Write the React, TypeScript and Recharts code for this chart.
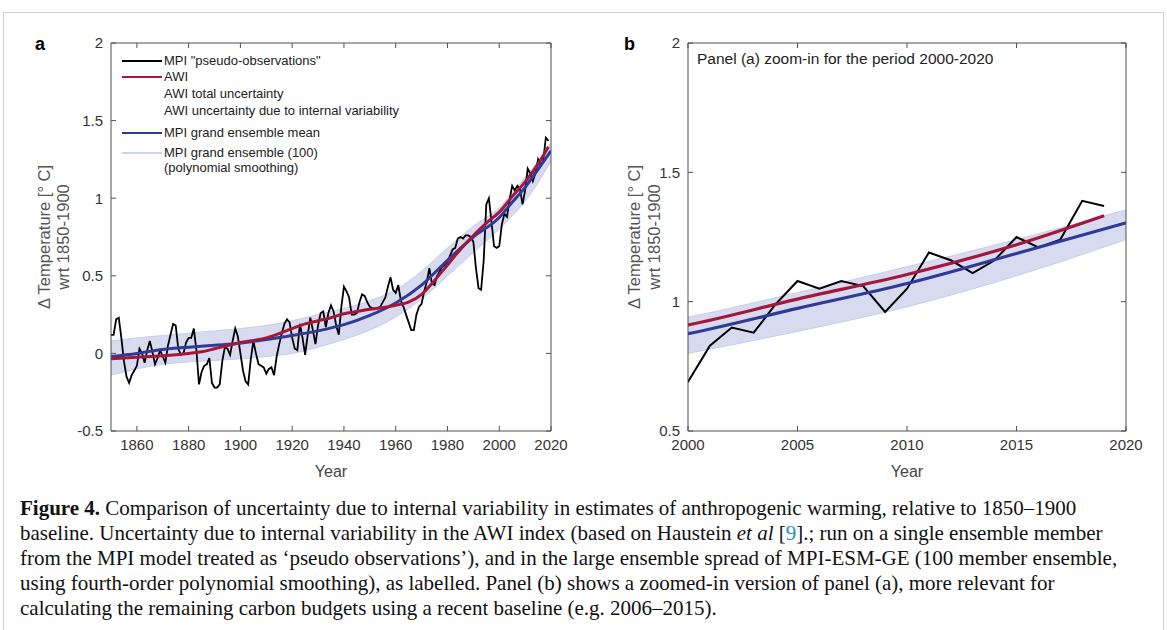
import React from "react";
import { ComposedChart, Line, Area, XAxis, YAxis } from "recharts";

// MPI "pseudo-observations", one value per year from 1850 to 2019
const obsStartYear = 1850;
const obsValues = [
  0.12, 0.12, 0.22, 0.23, 0.1, -0.05, -0.15, -0.19, -0.14, -0.11,
  -0.08, 0.03, 0.0, -0.06, 0.02, 0.08, 0.01, -0.07, -0.03, 0.02,
  -0.02, -0.06, 0.05, 0.12, 0.19, 0.18, 0.03, -0.01, 0.0, 0.07,
  0.1, 0.1, 0.16, 0.02, -0.2, -0.12, -0.08, -0.07, -0.03, -0.19,
  -0.22, -0.22, -0.2, -0.05, 0.04, 0.03, -0.01, 0.08, 0.16, 0.11,
  0.0, -0.11, -0.18, -0.2, -0.04, 0.08, 0.0, -0.07, -0.08, -0.09,
  -0.13, -0.1, -0.09, -0.14, -0.02, 0.06, 0.13, 0.19, 0.22, 0.2,
  0.1, 0.03, 0.02, 0.19, 0.1, -0.01, 0.12, 0.23, 0.15, 0.06,
  0.18, 0.26, 0.27, 0.17, 0.26, 0.31, 0.27, 0.18, 0.12, 0.3,
  0.43, 0.4, 0.36, 0.25, 0.25, 0.26, 0.33, 0.38, 0.37, 0.33,
  0.3, 0.29, 0.29, 0.29, 0.3, 0.33, 0.36, 0.43, 0.49, 0.41,
  0.39, 0.44, 0.34, 0.3, 0.25, 0.2, 0.15, 0.15, 0.25, 0.3,
  0.32, 0.4, 0.46, 0.55, 0.45, 0.44, 0.5, 0.53, 0.56, 0.57,
  0.59, 0.63, 0.67, 0.68, 0.74, 0.75, 0.74, 0.76, 0.76, 0.75,
  0.72, 0.55, 0.42, 0.41, 0.6, 0.96, 1.0, 0.85, 0.69, 0.68,
  0.69, 0.83, 0.9, 0.88, 0.99, 1.08, 1.05, 1.08, 1.06, 0.96,
  1.05, 1.19, 1.16, 1.11, 1.16, 1.25, 1.21, 1.24, 1.39, 1.37,
];

// AWI (smooth)
const awiYears = [1850, 1860, 1870, 1880, 1885, 1890, 1900, 1910, 1920, 1925, 1930, 1935, 1940, 1945, 1950, 1955, 1960, 1965, 1970, 1975, 1980, 1985, 1990, 1995, 2000, 2005, 2010, 2015, 2019];
const awiValues = [-0.035, -0.025, -0.015, 0.0, 0.01, 0.03, 0.07, 0.1, 0.16, 0.19, 0.21, 0.23, 0.255, 0.27, 0.285, 0.295, 0.31, 0.33, 0.38, 0.47, 0.57, 0.67, 0.76, 0.84, 0.91, 1.01, 1.105, 1.22, 1.332];

// MPI grand ensemble mean
const meanYears = [1850, 1860, 1870, 1880, 1890, 1900, 1910, 1920, 1930, 1940, 1950, 1960, 1970, 1980, 1990, 2000, 2005, 2010, 2015, 2020];
const meanValues = [-0.02, 0.0, 0.025, 0.04, 0.052, 0.065, 0.09, 0.115, 0.145, 0.185, 0.245, 0.325, 0.44, 0.6, 0.75, 0.876, 0.974, 1.07, 1.186, 1.305];

// spread of the 100 smoothed ensemble members
const spreadYears = [1850, 1860, 1870, 1880, 1890, 1900, 1910, 1920, 1930, 1940, 1950, 1960, 1970, 1980, 1990, 2000, 2005, 2010, 2015, 2020];
const spreadLow = [-0.14, -0.1, -0.07, -0.055, -0.045, -0.035, -0.02, 0.0, 0.04, 0.09, 0.15, 0.235, 0.35, 0.5, 0.65, 0.8, 0.885, 0.98, 1.1, 1.24];
const spreadHigh = [0.08, 0.1, 0.115, 0.13, 0.145, 0.16, 0.18, 0.21, 0.25, 0.29, 0.34, 0.41, 0.53, 0.68, 0.82, 0.94, 1.035, 1.135, 1.24, 1.355];

const yearTicksA = [1860, 1880, 1900, 1920, 1940, 1960, 1980, 2000, 2020];
const tempTicksA = [-0.5, 0, 0.5, 1, 1.5, 2];
const yearTicksB = [2000, 2005, 2010, 2015, 2020];
const tempTicksB = [0.5, 1, 1.5, 2];

const obsData = obsValues.map((v, i) => ({ year: obsStartYear + i, obs: v }));
const awiData = awiYears.map((y, i) => ({ year: y, awi: awiValues[i] }));
const meanData = meanYears.map((y, i) => ({ year: y, mean: meanValues[i] }));
const spreadData = spreadYears.map((y, i) => ({ year: y, spread: [spreadLow[i], spreadHigh[i]] }));

const AXIS = "#505050";
const TICK_TEXT = "#333";
const RED = "#a3173d";
const BLUE = "#2f3a96";
const BAND = "#d8dbf0";
const BAND_EDGE = "#c8cce9";

// tick marks only, no label
const noLabel = () => <g />;

// matlab-style box: ticks point inward on all four sides
function frameAxes(xDomain: number[], xTicks: number[], yDomain: number[], yTicks: number[]) {
  const tickStyle = { fill: TICK_TEXT, fontSize: 15 };
  return [
    <XAxis key="xb" xAxisId="main" type="number" dataKey="year" domain={xDomain} ticks={xTicks}
      allowDataOverflow interval={0} tickSize={-5} tickMargin={13} tickLine={{ stroke: AXIS }}
      axisLine={{ stroke: AXIS }} tick={tickStyle} height={48}
      label={{ value: "Year", position: "insideBottom", offset: 2, fill: "#444", fontSize: 16 }} />,
    <XAxis key="xt" xAxisId="top" orientation="top" type="number" dataKey="year" domain={xDomain} ticks={xTicks}
      allowDataOverflow interval={0} mirror tick={noLabel} tickSize={5} axisLine={{ stroke: AXIS }} tickLine={{ stroke: AXIS }} />,
    <YAxis key="yl" yAxisId="main" type="number" domain={yDomain} ticks={yTicks} allowDataOverflow
      interval={0} tickSize={-5} tickMargin={13} tickLine={{ stroke: AXIS }}
      axisLine={{ stroke: AXIS }} tick={tickStyle} width={45} />,
    <YAxis key="yr" yAxisId="right" orientation="right" type="number" domain={yDomain} ticks={yTicks}
      allowDataOverflow interval={0} mirror tick={noLabel} tickSize={5} axisLine={{ stroke: AXIS }} tickLine={{ stroke: AXIS }} />,
  ];
}

function seriesSet(obsWidth: number, curveWidth: number) {
  return [
    // invisible copy so the top/right frame axes carry data and draw their ticks
    <Line key="frame" xAxisId="top" yAxisId="right" data={obsData} dataKey="obs" stroke="none"
      dot={false} activeDot={false} isAnimationActive={false} />,
    <Area key="spread" xAxisId="main" yAxisId="main" data={spreadData} dataKey="spread" type="monotone"
      fill={BAND} fillOpacity={1} stroke={BAND_EDGE} strokeWidth={1} dot={false} activeDot={false} isAnimationActive={false} />,
    <Line key="obs" xAxisId="main" yAxisId="main" data={obsData} dataKey="obs" type="linear"
      stroke="#000" strokeWidth={obsWidth} dot={false} activeDot={false} isAnimationActive={false} />,
    <Line key="mean" xAxisId="main" yAxisId="main" data={meanData} dataKey="mean" type="monotone"
      stroke={BLUE} strokeWidth={curveWidth} dot={false} activeDot={false} isAnimationActive={false} />,
    <Line key="awi" xAxisId="main" yAxisId="main" data={awiData} dataKey="awi" type="monotone"
      stroke={RED} strokeWidth={curveWidth} dot={false} activeDot={false} isAnimationActive={false} />,
  ];
}

const rotated = (cx: number, cy: number, text: string) => (
  <div style={{
    position: "absolute", left: cx, top: cy, transform: "translate(-50%, -50%) rotate(-90deg)",
    whiteSpace: "nowrap", fontSize: 16.5, color: "#555",
  }}>{text}</div>
);

const legendRows = [
  { y: 61, color: "#000", label: 'MPI "pseudo-observations"' },
  { y: 77, color: RED, label: "AWI" },
  { y: 94, color: null, label: "AWI total uncertainty" },
  { y: 111, color: null, label: "AWI uncertainty due to internal variability" },
  { y: 133, color: BLUE, label: "MPI grand ensemble mean" },
  { y: 153, color: "#cfd4ee", label: "MPI grand ensemble (100)" },
  { y: 168, color: null, label: "(polynomial smoothing)" },
];

const captionStyle: React.CSSProperties = {
  position: "absolute", left: 20, whiteSpace: "nowrap", fontFamily: "'Liberation Serif', 'Times New Roman', serif",
  fontSize: 21, color: "#111", lineHeight: "24px",
};

export default function App() {
  return (
    <div style={{
      position: "absolute", left: 0, top: 0, width: 1167, height: 630, overflow: "hidden",
      background: "#fff", fontFamily: "'Liberation Sans', Arial, sans-serif",
    }}>
      <div style={{ position: "absolute", left: 3, top: 12, width: 1159, height: 700, border: "1.5px solid #cfcfcf" }} />

      <div style={{ position: "absolute", left: 0, top: 0 }}>
        <ComposedChart width={600} height={490} margin={{ top: 43, right: 49, bottom: 11, left: 66 }}>
          {frameAxes([1850, 2020], yearTicksA, [-0.5, 2], tempTicksA)}
          {seriesSet(1.8, 3)}
        </ComposedChart>
      </div>

      <div style={{ position: "absolute", left: 580, top: 0 }}>
        <ComposedChart width={580} height={490} margin={{ top: 43, right: 34, bottom: 11, left: 63 }}>
          {frameAxes([2000, 2020], yearTicksB, [0.5, 2], tempTicksB)}
          {seriesSet(2, 3.2)}
        </ComposedChart>
      </div>

      <div style={{ position: "absolute", left: 35, top: 34, fontSize: 18, fontWeight: 700 }}>a</div>
      <div style={{ position: "absolute", left: 624, top: 34, fontSize: 18, fontWeight: 700 }}>b</div>

      {rotated(44, 237, "\u0394 Temperature [\u00b0 C]")}
      {rotated(63, 237, "wrt 1850-1900")}
      {rotated(634, 237, "\u0394 Temperature [\u00b0 C]")}
      {rotated(654, 237, "wrt 1850-1900")}

      {legendRows.map((r) => (
        <React.Fragment key={r.label}>
          {r.color && (
            <div style={{ position: "absolute", left: 122, top: r.y - 1, width: 40, height: 2.4, background: r.color }} />
          )}
          <div style={{ position: "absolute", left: 164, top: r.y - 8, fontSize: 13, color: "#222", whiteSpace: "nowrap", lineHeight: "16px" }}>
            {r.label}
          </div>
        </React.Fragment>
      ))}

      <div style={{ position: "absolute", left: 697, top: 50, fontSize: 15.5, color: "#222", whiteSpace: "nowrap" }}>
        Panel (a) zoom-in for the period 2000-2020
      </div>

      <div style={{ ...captionStyle, top: 496 }}>
        <b>Figure 4.</b> Comparison of uncertainty due to internal variability in estimates of anthropogenic warming, relative to 1850–1900
      </div>
      <div style={{ ...captionStyle, top: 521 }}>
        baseline. Uncertainty due to internal variability in the AWI index (based on Haustein <i>et al</i> [<span style={{ color: "#2a8cc4" }}>9</span>].; run on a single ensemble member
      </div>
      <div style={{ ...captionStyle, top: 546 }}>
        from the MPI model treated as ‘pseudo observations’), and in the large ensemble spread of MPI-ESM-GE (100 member ensemble,
      </div>
      <div style={{ ...captionStyle, top: 571 }}>
        using fourth-order polynomial smoothing), as labelled. Panel (b) shows a zoomed-in version of panel (a), more relevant for
      </div>
      <div style={{ ...captionStyle, top: 596 }}>
        calculating the remaining carbon budgets using a recent baseline (e.g. 2006–2015).
      </div>
    </div>
  );
}
